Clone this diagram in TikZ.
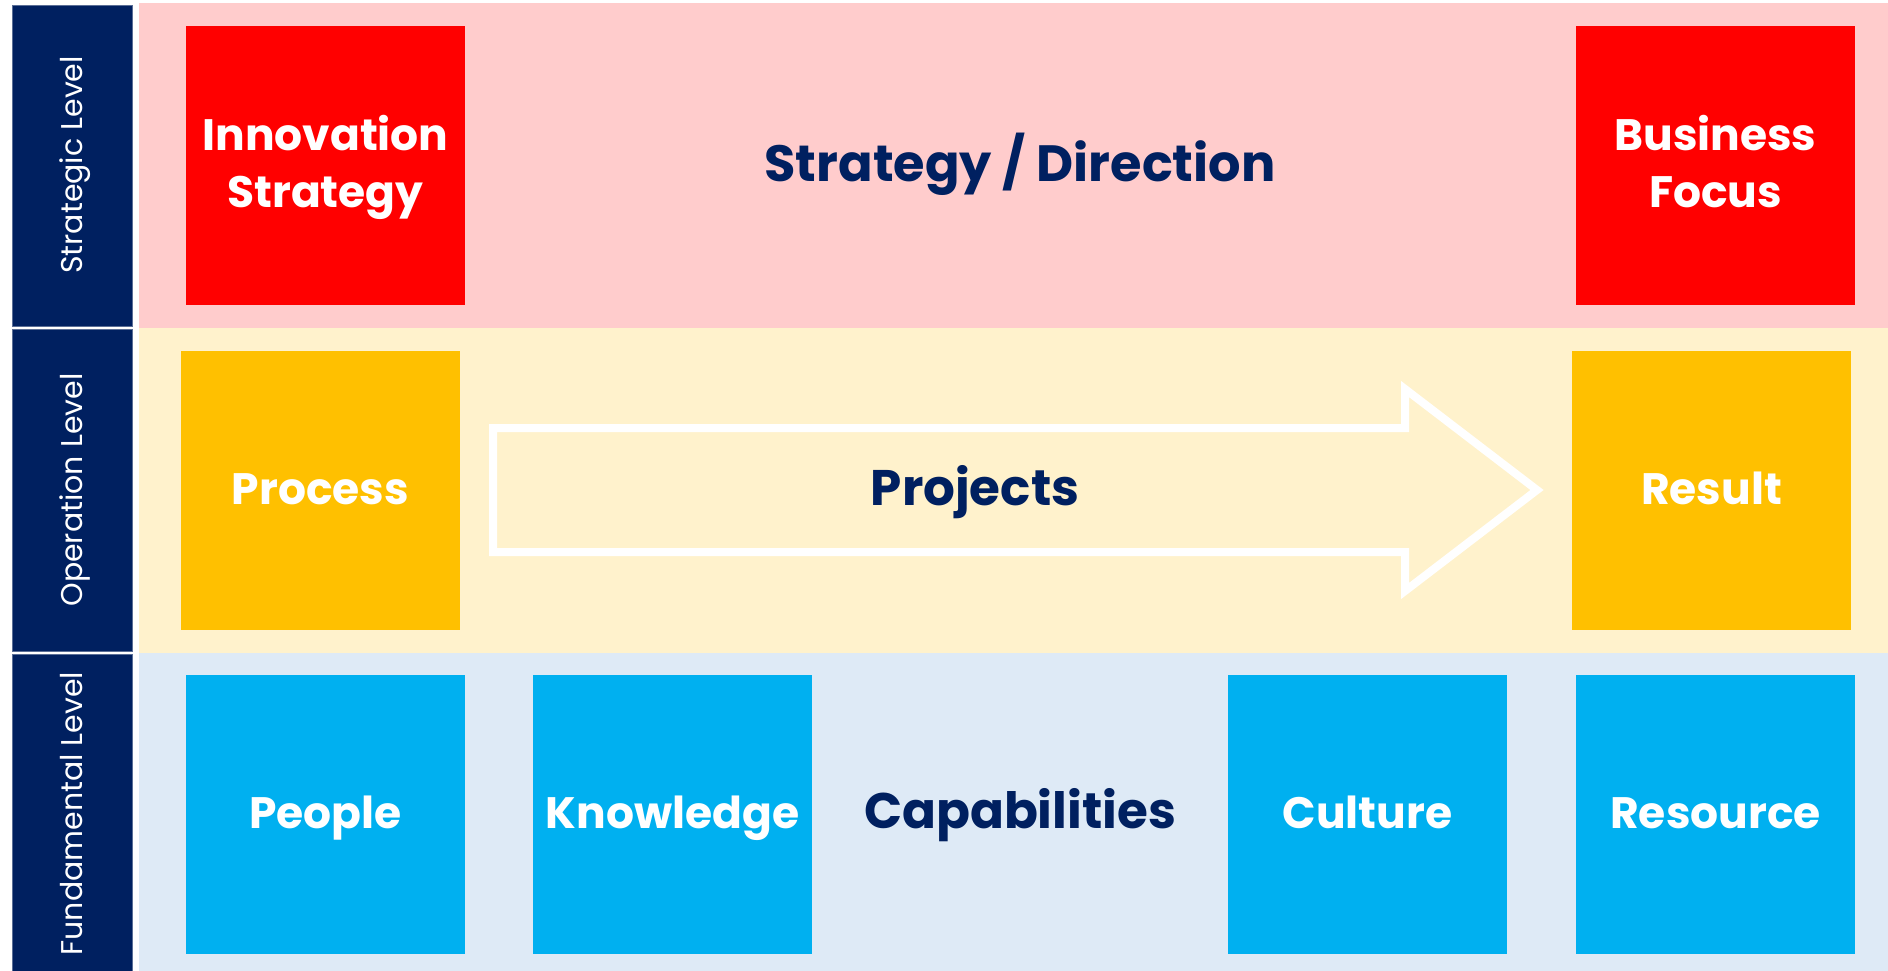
\documentclass[tikz,border=0pt]{standalone}
\usepackage{fontspec}
\setmainfont{Poppins}
\definecolor{navy}{HTML}{002060}
\definecolor{navyedge}{HTML}{5A6E96}
\definecolor{pinkband}{HTML}{FFCCCC}
\definecolor{yellowband}{HTML}{FFF2CC}
\definecolor{blueband}{HTML}{DEEAF6}
\definecolor{redbox}{HTML}{FF0000}
\definecolor{amberbox}{HTML}{FFC000}
\definecolor{bluebox}{HTML}{00B0F0}
\newcommand{\firstline}[1]{\rule{0pt}{31pt}\smash{#1}}
\newcommand{\lastline}[1]{\smash{#1}\rule[-4pt]{0pt}{4pt}}
\begin{document}
\begin{tikzpicture}[x=1pt,y=-1pt,
  lvlbar/.style={fill=navy, draw=navyedge, line width=0.8pt},
  lvltext/.style={rotate=90, text=white, inner sep=0pt, text height=22pt, text depth=0pt,
     font=\fontsize{30}{36}\selectfont},
  sqbox/.style={minimum width=279pt, minimum height=279pt, inner sep=0pt, text=white,
     align=center, font=\fontsize{44}{57}\selectfont\bfseries},
  oneline/.style={text height=31pt, text depth=4pt},
  redsq/.style={sqbox, fill=redbox},
  ambersq/.style={sqbox, oneline, fill=amberbox},
  bluesq/.style={sqbox, oneline, fill=bluebox},
  midtext/.style={text=navy, inner sep=0pt, text depth=0pt, font=\fontsize{50}{60}\selectfont\bfseries}
]
\useasboundingbox (0,0) rectangle (1888,971);
\fill[white] (0,0) rectangle (1888,971);
% bands
\fill[pinkband] (139,3) rectangle (1888,328);
\fill[yellowband] (139,328) rectangle (1888,653);
\fill[blueband] (139,653) rectangle (1888,971);
% level bars
\draw[lvlbar] (12,5) rectangle (132,326);
\draw[lvlbar] (12,329) rectangle (132,651);
\draw[lvlbar] (12,654) rectangle (132,971);
\node[lvltext] (lstr) at (71,165) {Strategic Level};
\node[lvltext] (lop) at (71,490) {Operation Level};
\node[lvltext] (lfun) at (71,813.5) {Fundamental Level};
% strategic
\node[redsq] (innov) at (325.5,165.5) {\firstline{Innovation}\\\lastline{Strategy}};
\node[redsq] (busfoc) at (1715.5,165.5) {\firstline{Business}\\\lastline{Focus}};
\node[midtext, text height=36pt, font=\fontsize{51}{60}\selectfont\bfseries] (strat) at (1020,163.4) {Strategy / Direction};
% operation
\node[ambersq] (proc) at (320.5,490.5) {Process};
\node[ambersq] (res) at (1711.5,490.5) {Result};
\draw[white, line width=8pt, miter limit=10, line join=miter]
  (493,428) -- (1405,428) -- (1405,389) -- (1537,490) -- (1405,591) -- (1405,552) -- (493,552) -- cycle;
\node[midtext, text height=35pt] (proj) at (975,488.4) {Projects};
% fundamental
\node[bluesq] (people) at (325.5,814.5) {People};
\node[bluesq] (know) at (672.5,814.5) {Knowledge};
\node[bluesq] (cult) at (1367.5,814.5) {Culture};
\node[bluesq] (resource) at (1715.5,814.5) {Resource};
\node[midtext, text height=35pt] (cap) at (1020,811.4) {Capabilities};
\end{tikzpicture}
\end{document}
